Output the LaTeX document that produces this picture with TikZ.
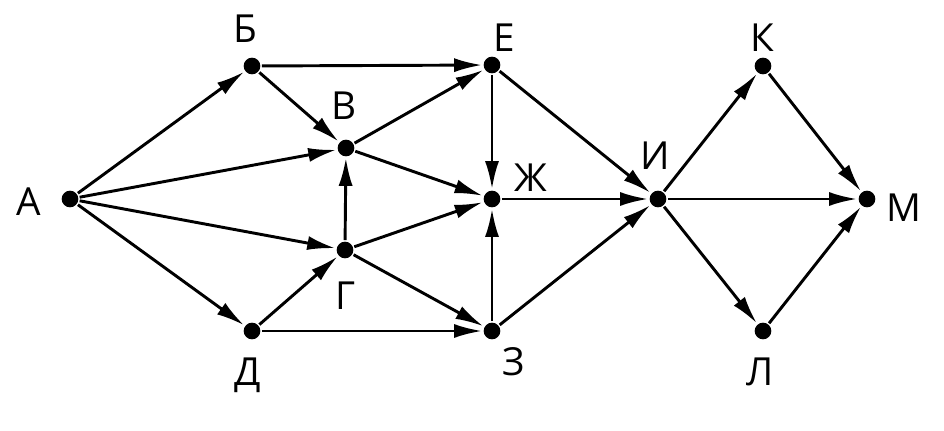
\documentclass[tikz,border=0pt]{standalone}
\usepackage{fontspec}
\setmainfont{Open Sans}
\usetikzlibrary{arrows.meta}
\tikzset{
  dot/.style={circle, fill, inner sep=0pt, minimum size=0.5cm},
  lbl/.style={inner sep=0pt, text depth=0pt, font=\fontsize{33}{36}\selectfont},
  arr/.style={-{Latex[length=24pt, width=12pt]}}
}
\begin{document}
\begin{tikzpicture}[x=0.03cm, y=-0.03cm, line width=2.5pt]
            \useasboundingbox (0,0) rectangle (944,431);
            % vertices
            \node[dot] (A) at (70,199) {};
            \node[dot] (B) at (252,66) {};
            \node[dot] (V) at (346,148) {};
            \node[dot] (G) at (345,250) {};
            \node[dot] (D) at (252,331) {};
            \node[dot] (E) at (492,65) {};
            \node[dot] (Zh) at (492,199) {};
            \node[dot] (Z) at (492,331) {};
            \node[dot] (I) at (658,199) {};
            \node[dot] (K) at (763,66) {};
            \node[dot] (L) at (763,331) {};
            \node[dot] (M) at (867,199) {};
            % names
            \node[lbl] (lA) at (29,202) {А};
            \node[lbl] (lB) at (245,29) {Б};
            \node[lbl] (lV) at (344,106) {В};
            \node[lbl] (lG) at (346,296) {Г};
            \node[lbl] (lD) at (248,372) {Д};
            \node[lbl] (lE) at (504,38) {Е};
            \node[lbl] (lZh) at (531,178) {Ж};
            \node[lbl] (lZ) at (514,362) {З};
            \node[lbl] (lI) at (655,156) {И};
            \node[lbl] (lK) at (762,38) {К};
            \node[lbl] (lL) at (760,372) {Л};
            \node[lbl] (lM) at (904,208) {М};
            % roads
            \draw[arr] (A) -- (B);
            \draw[arr] (A) -- (V);
            \draw[arr] (A) -- (G);
            \draw[arr] (A) -- (D);
            \draw[arr] (B) -- (E);
            \draw[arr] (B) -- (V);
            \draw[arr] (V) -- (E);
            \draw[arr] (V) -- (Zh);
            \draw[arr] (G) -- (V);
            \draw[arr] (G) -- (Zh);
            \draw[arr] (G) -- (Z);
            \draw[arr] (D) -- (G);
            \draw[arr] (D) -- (Z);
            \draw[arr] (E) -- (Zh);
            \draw[arr] (E) -- (I);
            \draw[arr] (Zh) -- (I);
            \draw[arr] (Z) -- (Zh);
            \draw[arr] (Z) -- (I);
            \draw[arr] (I) -- (K);
            \draw[arr] (I) -- (M);
            \draw[arr] (I) -- (L);
            \draw[arr] (K) -- (M);
            \draw[arr] (L) -- (M);
\end{tikzpicture}
\end{document}
